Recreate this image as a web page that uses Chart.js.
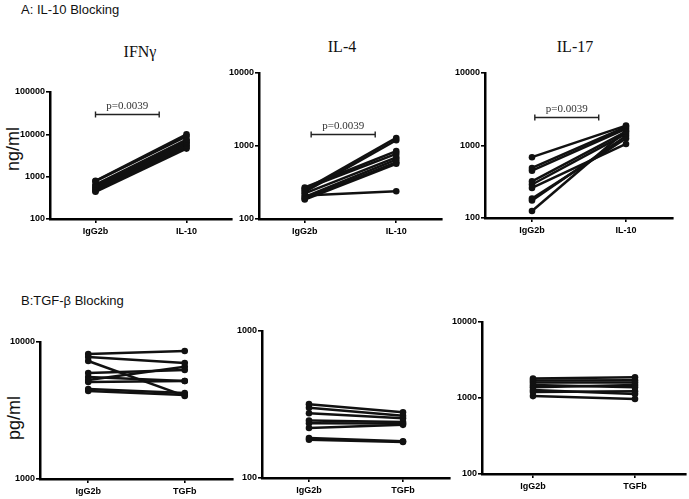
<!DOCTYPE html>
<html><head><meta charset="utf-8">
<script src="https://cdn.jsdelivr.net/npm/chart.js@4.4.1/dist/chart.umd.min.js"></script>
<style>
body{margin:0;background:#fff;width:689px;height:499px;position:relative;overflow:hidden;font-family:"Liberation Sans",Arial,sans-serif}
canvas{position:absolute}
.t{position:absolute;white-space:nowrap;transform:translate(-50%,-50%);color:#111}
.h{position:absolute;white-space:nowrap;font-size:13px;color:#111}
.ttl{font-family:"Liberation Serif","Times New Roman",serif;font-size:16px}
.yl{font-size:18px;transform:translate(-50%,-50%) rotate(-90deg)}
</style></head><body>
<div class="h" style="left:21px;top:2px">A: IL-10 Blocking</div>
<div class="h" style="left:21px;top:293px">B:TGF-β Blocking</div>
<div class="t ttl" style="left:140px;top:52px">IFNγ</div>
<div class="t ttl" style="left:342px;top:47px">IL-4</div>
<div class="t ttl" style="left:575px;top:47px">IL-17</div>
<div class="t yl" style="left:13px;top:149px">ng/ml</div>
<div class="t yl" style="left:14px;top:418px">pg/ml</div>
<canvas id="c1"></canvas><canvas id="c2"></canvas><canvas id="c3"></canvas>
<canvas id="c4"></canvas><canvas id="c5"></canvas><canvas id="c6"></canvas>
<script>
// ---- data ----
const groupsA = ['IgG2b', 'IL-10'];
const groupsB = ['IgG2b', 'TGFb'];
const ticks100to100000 = [100, 1000, 10000, 100000];
const ticks100to10000 = [100, 1000, 10000];
const ticks1000to10000 = [1000, 10000];
const ticks100to1000 = [100, 1000];

const ifngIgG2b = [800, 780, 650, 600, 560, 520, 490, 460, 440];
const ifngIL10  = [10000, 9000, 7500, 7000, 6500, 6000, 5500, 5000, 4600];

const il4IgG2b = [250, 235, 270, 260, 225, 200, 190, 185, 210];
const il4IL10  = [1290, 1200, 850, 780, 700, 650, 600, 570, 240];

const il17IgG2b = [690, 490, 450, 320, 290, 260, 185, 175, 125];
const il17IL10  = [1880, 1800, 1700, 1550, 1450, 1050, 1250, 1350, 1600];

const tgfIfngIgG2b = [8170, 7770, 7270, 5940, 5280, 5550, 5110, 4540, 4390];
const tgfIfngTGFb  = [8600, 7030, 4040, 6250, 6600, 5190, 5190, 4240, 4100];

const tgfIl4IgG2b = [318, 300, 276, 246, 236, 219, 187, 182];
const tgfIl4TGFb  = [280, 265, 255, 240, 235, 230, 178, 176];

const tgfIl17IgG2b = [1800, 1700, 1600, 1480, 1390, 1270, 1200, 1060];
const tgfIl17TGFb  = [1870, 1710, 1600, 1390, 1480, 1130, 1230, 970];

const pText = 'p=0.0039';
const pBracketY = [30000, 1460, 2510];

// ---- drawing ----
const bracketPlugin = {
  id: 'bracket',
  afterDatasetsDraw(chart, args, o) {
    if (!o || o.y == null) return;
    const {ctx, scales: {x, y}} = chart;
    const x1 = x.getPixelForValue(o.from), x2 = x.getPixelForValue(o.to), yy = Math.round(y.getPixelForValue(o.y)) + 0.5;
    ctx.save();
    ctx.strokeStyle = '#222'; ctx.lineWidth = 1.4;
    ctx.beginPath();
    ctx.moveTo(x1, yy); ctx.lineTo(x2, yy);
    ctx.moveTo(x1, yy - 3); ctx.lineTo(x1, yy + 3);
    ctx.moveTo(x2, yy - 3); ctx.lineTo(x2, yy + 3);
    ctx.stroke();
    ctx.fillStyle = '#333'; ctx.font = '11px "Liberation Serif"';
    ctx.textAlign = 'center'; ctx.textBaseline = 'bottom';
    ctx.fillText(o.text, (x1 + x2) / 2, yy - 3);
    ctx.restore();
  }
};

const YW = 48, XH = 24, PT = 10, PR = 4;
function panel(id, area, labels, a, b, yTicks, bracket) {
  const [L, R, T, B] = area;
  const cv = document.getElementById(id);
  const w = R - L + YW + PR, h = B - T + PT + XH;
  cv.style.left = (L - YW) + 'px'; cv.style.top = (T - PT) + 'px';
  cv.style.width = w + 'px'; cv.style.height = h + 'px';
  cv.width = w; cv.height = h;
  const datasets = a.map((v, i) => ({
    data: [v, b[i]],
    borderColor: '#111', backgroundColor: '#111',
    borderWidth: 2.5, pointRadius: 3.3, pointBorderWidth: 0, tension: 0
  }));
  const tickFont = {family: 'Liberation Sans', weight: 'bold', size: 9};
  new Chart(cv, {
    type: 'line',
    data: {labels, datasets},
    options: {
      responsive: false, animation: false, devicePixelRatio: 1,
      layout: {padding: {top: PT, right: PR, left: 0, bottom: 0}},
      plugins: {legend: {display: false}, tooltip: {enabled: false}, bracket: bracket || {}},
      scales: {
        x: {
          type: 'category', offset: true,
          grid: {drawOnChartArea: false, color: '#000', lineWidth: 1.6, tickLength: 4, offset: false},
          border: {color: '#000', width: 2.5},
          ticks: {color: '#000', font: tickFont, padding: 3, maxRotation: 0},
          afterFit: s => { s.height = XH; }
        },
        y: {
          type: 'logarithmic', min: yTicks[0], max: yTicks[yTicks.length - 1],
          afterBuildTicks: s => { s.ticks = yTicks.map(v => ({value: v, major: true})); },
          grid: {drawOnChartArea: false, color: '#000', lineWidth: 1.6, tickLength: 4},
          border: {color: '#000', width: 2.5},
          ticks: {color: '#000', font: tickFont, padding: 1, callback: v => String(v)},
          afterFit: s => { s.width = YW; }
        }
      }
    },
    plugins: [bracketPlugin]
  });
}

panel('c1', [50, 232, 92, 219], groupsA, ifngIgG2b, ifngIL10, ticks100to100000, {y: pBracketY[0], from: 0, to: 0.7, text: pText});
panel('c2', [259, 442, 73, 219], groupsA, il4IgG2b, il4IL10, ticks100to10000, {y: pBracketY[1], from: 0.07, to: 0.77, text: pText});
panel('c3', [485, 673, 73, 218], groupsA, il17IgG2b, il17IL10, ticks100to10000, {y: pBracketY[2], from: 0.03, to: 0.71, text: pText});
panel('c4', [40, 233, 342, 479], groupsB, tgfIfngIgG2b, tgfIfngTGFb, ticks1000to10000);
panel('c5', [262, 450, 331, 478], groupsB, tgfIl4IgG2b, tgfIl4TGFb, ticks100to1000);
panel('c6', [482, 686, 322, 474], groupsB, tgfIl17IgG2b, tgfIl17TGFb, ticks100to10000);
</script>
</body></html>
